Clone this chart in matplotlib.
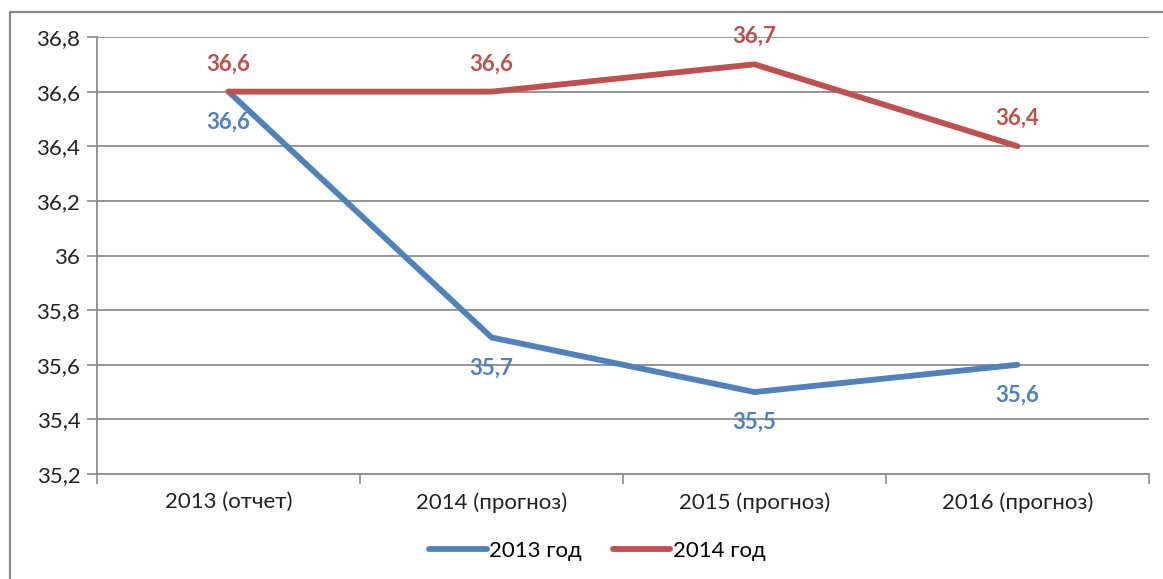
import matplotlib
matplotlib.use("Agg")
from matplotlib import pyplot as plt
from matplotlib.patches import Rectangle
from matplotlib.ticker import FuncFormatter, FixedLocator

plt.rcParams['font.family'] = ['Lato', 'Open Sans', 'DejaVu Sans']

categories = ["2013 (отчет)", "2014 (прогноз)", "2015 (прогноз)", "2016 (прогноз)"]
series_names = ["2013 год", "2014 год"]
values_2013 = [36.6, 35.7, 35.5, 35.6]
values_2014 = [36.6, 36.6, 36.7, 36.4]
y_ticks = [35.2, 35.4, 35.6, 35.8, 36.0, 36.2, 36.4, 36.6, 36.8]

blue = "#4F81BD"
red = "#C0504D"
grid_gray = "#8C8C8C"
fs = 16

fig = plt.figure(figsize=(11.63, 5.79), dpi=100)
ax = fig.add_axes([97 / 1163, 1 - 474 / 579, (1149 - 97) / 1163, (474 - 37) / 579])

# outer chart frame (cut off on right and bottom like the screenshot)
fig.patches.append(Rectangle((10 / 1163, -0.1), 1.2, 1 - 12 / 579 + 0.1,
                             transform=fig.transFigure, fill=False,
                             edgecolor="#8A8A8A", linewidth=1.6))

x = range(len(categories))
ax.plot(x, values_2013, color=blue, linewidth=4.2, solid_capstyle="round",
        label=series_names[0], zorder=3)
ax.plot(x, values_2014, color=red, linewidth=4.2, solid_capstyle="round",
        label=series_names[1], zorder=3)


def fmt(v):
    s = f"{v:.1f}".replace(".", ",")
    return s[:-2] if s.endswith(",0") else s


for i, v in enumerate(values_2014):
    ax.annotate(fmt(v), (i, v), xytext=(0, 20), textcoords="offset points",
                ha="center", va="center", color=red, fontsize=fs,
                fontweight="bold")
for i, v in enumerate(values_2013):
    ax.annotate(fmt(v), (i, v), xytext=(0, -22), textcoords="offset points",
                ha="center", va="center", color=blue, fontsize=fs,
                fontweight="bold")

ax.set_xlim(-0.5, len(categories) - 0.5)
ax.set_ylim(35.2, 36.8)
ax.set_yticks(y_ticks)
ax.yaxis.set_major_formatter(FuncFormatter(lambda v, p: fmt(v)))
ax.set_xticks(list(x))
ax.set_xticklabels(categories)
ax.xaxis.set_minor_locator(FixedLocator([i - 0.5 for i in range(len(categories) + 1)]))
ax.tick_params(axis="x", which="major", length=0, pad=13, labelsize=fs,
               labelcolor="#222222")
ax.tick_params(axis="x", which="minor", length=7, color=grid_gray, width=1.2)
ax.tick_params(axis="y", length=7, color=grid_gray, width=1.2, pad=5,
               labelsize=fs, labelcolor="#222222")

ax.grid(axis="y", color=grid_gray, linewidth=1.3)
ax.set_axisbelow(True)
for side in ["top", "right"]:
    ax.spines[side].set_visible(False)
for side in ["left", "bottom"]:
    ax.spines[side].set_color(grid_gray)
    ax.spines[side].set_linewidth(1.3)

fig.legend(loc="center", bbox_to_anchor=(597 / 1163, 1 - 551 / 579), ncol=2,
           frameon=False, fontsize=fs, handlelength=2.6, handletextpad=0.1,
           columnspacing=1.4)

fig.savefig("out.png", dpi=100)
